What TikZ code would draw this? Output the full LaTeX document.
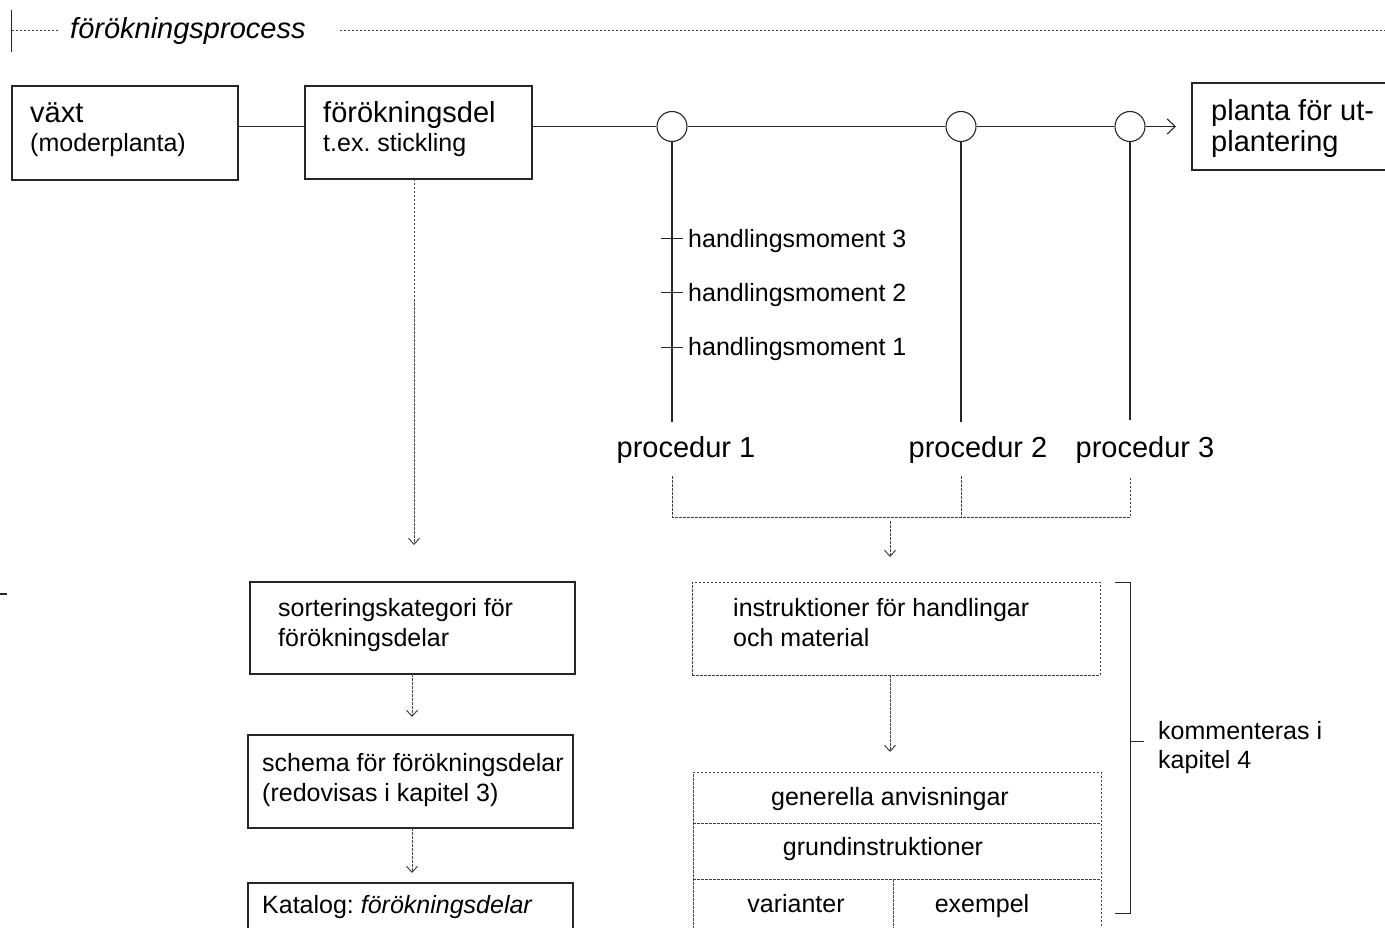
\documentclass[tikz,border=0pt]{standalone}
\usepackage{fontspec}
\setmainfont{Liberation Sans}
\usetikzlibrary{arrows.meta}
\frenchspacing
\begin{document}
\begin{tikzpicture}[x=1pt,y=-1pt,
  solidline/.style={line width=1.1pt, draw=black!85},
  dashline/.style={line width=1pt, draw=black!75, dash pattern=on 2.5pt off 1.5pt},
  box/.style={draw=black!85, line width=1.2pt, rectangle, inner sep=0pt, outer sep=0pt, anchor=north west},
  dbox/.style={box, draw=black!75, line width=1pt, dash pattern=on 2.5pt off 1.5pt},
  bigtxt/.style={font=\fontsize{29}{32}\selectfont, inner sep=0pt},
  smalltxt/.style={font=\fontsize{25}{30}\selectfont, inner sep=0pt},
  junction/.style={circle, draw=black!85, line width=1.1pt, minimum size=30pt, inner sep=0pt, fill=white},
  opentip/.style={-{Straight Barb[length=6pt,width=11pt,line width=1pt]}},
  maintip/.style={-{Straight Barb[length=8pt,width=15pt,line width=1.1pt]}},
]
\useasboundingbox (0,0) rectangle (1385,928);

% ---- header ----
\coordinate (hdr) at (11.5,31);
\coordinate (hdrend) at (1390,31);
\node[bigtxt, anchor=base west, font=\fontsize{29}{32}\selectfont\itshape] (title) at (70,39) {förökningsprocess};
\draw[solidline, line width=1pt] ([yshift=21pt]hdr) -- ([yshift=-21pt]hdr);
\draw[dashline] (hdr) -- ([xshift=-12pt]title.west |- hdr);
\draw[dashline] ([xshift=34pt]title.east |- hdr) -- (hdrend);

% small mark at the left margin
\coordinate (mark) at (0,594);
\draw[line width=1.5pt, black!85] (mark) -- ++(7,0);

% ---- top row ----
\node[box, minimum width=226pt, minimum height=94pt] (vaxt) at (12,86) {};
\node[bigtxt, anchor=base west] (vaxt1) at (30,123) {växt};
\node[smalltxt, anchor=base west] (vaxt2) at (30,152) {(moderplanta)};

\node[box, minimum width=227pt, minimum height=93pt] (del) at (305,86) {};
\node[bigtxt, anchor=base west] (del1) at (323,123) {förökningsdel};
\node[smalltxt, anchor=base west] (del2) at (323,152) {t.ex. stickling};

\node[box, minimum width=200pt, minimum height=87pt] (planta) at (1192,83) {};
\node[bigtxt, anchor=base west] (planta1) at (1211,121) {planta för ut-};
\node[bigtxt, anchor=base west] (planta2) at (1211,152) {plantering};

\node[junction] (c1) at (672,126.5) {};
\node[junction] (c2) at (961,126.5) {};
\node[junction] (c3) at (1130,126.5) {};
\coordinate (arrowend) at (1176,126.5);

\draw[solidline] (vaxt.east |- c1) -- (del.west |- c1);
\draw[solidline] (del.east |- c1) -- (c1);
\draw[solidline] (c1) -- (c2);
\draw[solidline] (c2) -- (c3);
\draw[solidline, maintip] (c3) -- (arrowend);

% ---- procedures ----
\coordinate (p1end) at (672,422);
\coordinate (p2end) at (961,422);
\coordinate (p3end) at (1130,420);
\draw[solidline] (c1) -- (p1end);
\draw[solidline] (c2) -- (p2end);
\draw[solidline] (c3) -- (p3end);

\coordinate (h3) at (672,239);
\coordinate (h2) at (672,293);
\coordinate (h1) at (672,347);
\foreach \h in {h1,h2,h3}
  \draw[solidline, line width=1pt] ([xshift=-11pt]\h) -- ([xshift=11pt]\h);
\node[smalltxt, anchor=west] (hm3) at (688,241) {handlingsmoment 3};
\node[smalltxt, anchor=west] (hm2) at (688,295) {handlingsmoment 2};
\node[smalltxt, anchor=west] (hm1) at (688,349) {handlingsmoment 1};

\node[bigtxt] (proc1) at (686,450) {procedur 1};
\node[bigtxt] (proc2) at (978,450) {procedur 2};
\node[bigtxt] (proc3) at (1145,450) {procedur 3};

% dashed collector below the procedures
\coordinate (b1) at (672,476);
\coordinate (b2) at (961,476);
\coordinate (b3) at (1130,476);
\coordinate (bl) at (672,517);
\coordinate (br) at (1130,517);
\draw[dashline] (b1) -- (bl) -- (br) -- (b3);
\draw[dashline] (b2) -- (b2 |- bl);
\coordinate (gstart) at (890,521);
\coordinate (gtip) at (890,557);
\draw[dashline, opentip] (gstart) -- (gtip);

% ---- left column ----
\coordinate (tipA) at (414,545);
\draw[dashline, opentip] (del.south -| tipA) -- (tipA);

\node[box, minimum width=325pt, minimum height=92pt] (sortbox) at (250,582) {};
\node[smalltxt, anchor=base west] (sort1) at (278,616) {sorteringskategori för};
\node[smalltxt, anchor=base west] (sort2) at (278,646) {förökningsdelar};

\coordinate (tipB) at (412,717);
\draw[dashline, opentip] (sortbox.south -| tipB) -- (tipB);

\node[box, minimum width=325pt, minimum height=93pt] (schemabox) at (248,735) {};
\node[smalltxt, anchor=base west] (schema1) at (262,771) {schema för förökningsdelar};
\node[smalltxt, anchor=base west] (schema2) at (262,801) {(redovisas i kapitel 3)};

\coordinate (tipC) at (412,873);
\draw[dashline, opentip] (schemabox.south -| tipC) -- (tipC);

\node[box, minimum width=325pt, minimum height=60pt] (katbox) at (248,883) {};
\node[smalltxt, anchor=base west] (kat1) at (262,913) {Katalog: \textit{förökningsdelar}};

% ---- right column ----
\node[dbox, minimum width=408pt, minimum height=93pt] (instrbox) at (692,582) {};
\node[smalltxt, anchor=base west] (instr1) at (733,616) {instruktioner för handlingar};
\node[smalltxt, anchor=base west] (instr2) at (733,646) {och material};

\coordinate (tipE) at (890,752);
\draw[dashline, opentip] (instrbox.south -| tipE) -- (tipE);

\node[dbox, minimum width=408pt, minimum height=170pt] (anvbox) at (693,772) {};
\coordinate (div1) at (0,823);
\coordinate (div2) at (0,879);
\coordinate (div3) at (893,879);
\draw[dashline] (anvbox.west |- div1) -- (anvbox.east |- div1);
\draw[dashline] (anvbox.west |- div2) -- (anvbox.east |- div2);
\draw[dashline] (div3) -- (div3 |- anvbox.south);
\node[smalltxt] (anv1) at (890,799) {generella anvisningar};
\node[smalltxt] (anv2) at (883,849) {grundinstruktioner};
\node[smalltxt, anchor=base] (anv3) at (796,912) {varianter};
\node[smalltxt, anchor=base] (anv4) at (982,912) {exempel};

% bracket
\coordinate (brtop) at (1130,582);
\coordinate (brbot) at (1130,913);
\coordinate (brmid) at (1130,741);
\draw[solidline, line width=1pt] ([xshift=-15pt]brtop) -- (brtop) -- (brbot) -- ([xshift=-15pt]brbot);
\draw[solidline, line width=1pt] (brmid) -- ([xshift=14pt]brmid);
\node[smalltxt, anchor=base west] (kom1) at (1158,739) {kommenteras i};
\node[smalltxt, anchor=base west] (kom2) at (1158,768) {kapitel 4};

\end{tikzpicture}
\end{document}
